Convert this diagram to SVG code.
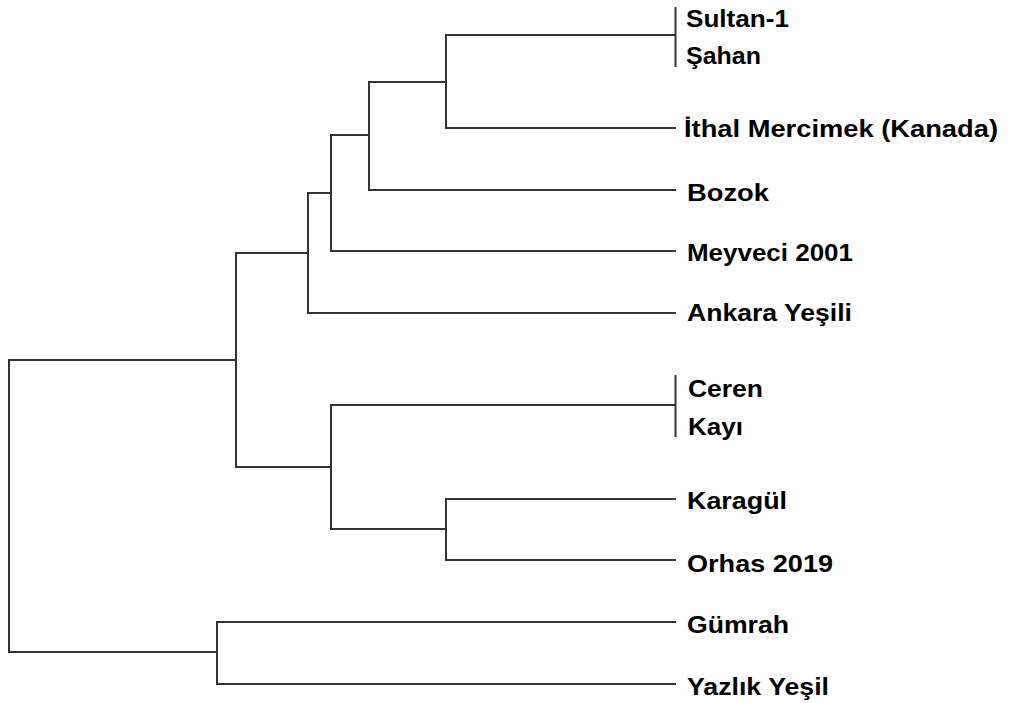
<svg xmlns="http://www.w3.org/2000/svg" width="1011" height="703" viewBox="0 0 1011 703">
<style>
.e{fill:none;stroke:#333;stroke-width:2;stroke-linecap:square}
.t{font-family:"Liberation Sans",Arial,sans-serif;font-weight:bold;font-size:24px;fill:#000}
</style>
<rect width="1011" height="703" fill="#fff"/>
<g id="connectors">
<path class="e" d="M9,360 V652 M9,360 H236 M9,652 H217"/>
<path class="e" d="M236,253 V467 M236,253 H308 M236,467 H331"/>
<path class="e" d="M308,193 V313 M308,313 H675 M308,193 H331"/>
<path class="e" d="M331,135 V251 M331,251 H675 M331,135 H369"/>
<path class="e" d="M369,82 V190 M369,190 H675 M369,82 H446"/>
<path class="e" d="M446,35 V128 M446,128 H675 M446,35 H675"/>
<path class="e" d="M675.5,8 V66"/>
<path class="e" d="M331,405 V529 M331,405 H675 M331,529 H446"/>
<path class="e" d="M675.5,376 V436"/>
<path class="e" d="M446,499 V560 M446,499 H675 M446,560 H675"/>
<path class="e" d="M217,622 V684 M217,622 H675 M217,684 H675"/>
</g>
<g id="sultan-1"><text class="t" x="686" y="27" textLength="103" lengthAdjust="spacingAndGlyphs">Sultan-1</text></g>
<g id="sahan"><text class="t" x="686" y="64" textLength="75" lengthAdjust="spacingAndGlyphs">Şahan</text></g>
<g id="ithal"><text class="t" x="684" y="137" textLength="314" lengthAdjust="spacingAndGlyphs">İthal Mercimek (Kanada)</text></g>
<g id="bozok"><text class="t" x="687" y="201" textLength="82" lengthAdjust="spacingAndGlyphs">Bozok</text></g>
<g id="meyveci"><text class="t" x="687" y="261" textLength="166" lengthAdjust="spacingAndGlyphs">Meyveci 2001</text></g>
<g id="ankara"><text class="t" x="687" y="321" textLength="165" lengthAdjust="spacingAndGlyphs">Ankara Yeşili</text></g>
<g id="ceren"><text class="t" x="688" y="397" textLength="75" lengthAdjust="spacingAndGlyphs">Ceren</text></g>
<g id="kayi"><text class="t" x="688" y="435" textLength="55" lengthAdjust="spacingAndGlyphs">Kayı</text></g>
<g id="karagul"><text class="t" x="687" y="509" textLength="100" lengthAdjust="spacingAndGlyphs">Karagül</text></g>
<g id="orhas"><text class="t" x="687" y="572" textLength="146" lengthAdjust="spacingAndGlyphs">Orhas 2019</text></g>
<g id="gumrah"><text class="t" x="687" y="633" textLength="102" lengthAdjust="spacingAndGlyphs">Gümrah</text></g>
<g id="yazlik"><text class="t" x="687" y="695" textLength="142" lengthAdjust="spacingAndGlyphs">Yazlık Yeşil</text></g>
</svg>
